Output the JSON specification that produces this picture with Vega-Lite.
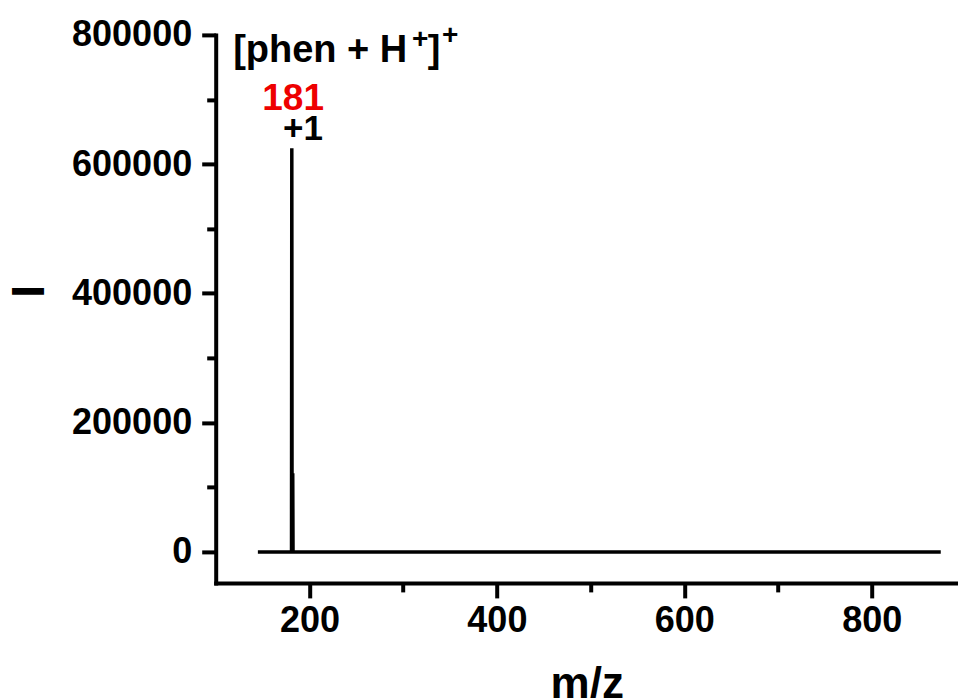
{
  "$schema": "https://vega.github.io/schema/vega-lite/v6.json",
  "autosize": {"type": "none"},
  "padding": {"left": 215.7, "top": 34.9, "right": 0, "bottom": 115.1},
  "width": 742.3,
  "height": 548,
  "background": "white",
  "config": {
    "view": {"stroke": null},
    "font": "Liberation Sans",
    "axis": {
      "grid": false,
      "domainColor": "black",
      "domainWidth": 4,
      "domainCap": "square",
      "tickColor": "black",
      "tickWidth": 4,
      "labelFont": "Liberation Sans",
      "labelFontWeight": "bold",
      "labelFontSize": 36,
      "labelColor": "black",
      "titleFont": "Liberation Sans",
      "titleFontWeight": "bold",
      "titleColor": "black"
    }
  },
  "datasets": {
    "spectrum": [
      {"mz": 145, "intensity": 0},
      {"mz": 180.9, "intensity": 0},
      {"mz": 181.2, "intensity": 624500},
      {"mz": 181.5, "intensity": 0},
      {"mz": 181.8, "intensity": 0},
      {"mz": 182.2, "intensity": 121800},
      {"mz": 182.5, "intensity": 0},
      {"mz": 873.6, "intensity": 0}
    ],
    "mainText": [
      {"mz": 118.6, "intensity": 758000, "label": "[phen + H"},
      {"mz": 326.3, "intensity": 758000, "label": "]"}
    ],
    "chargeText": [
      {"mz": 171.9, "intensity": 637300, "label": "+1"}
    ],
    "supText": [
      {"mz": 318.1, "intensity": 780000, "label": "+"},
      {"mz": 350.1, "intensity": 786000, "label": "+"}
    ],
    "redText": [
      {"mz": 182.6, "intensity": 683700, "label": "181"}
    ]
  },
  "encoding": {
    "x": {
      "field": "mz",
      "type": "quantitative",
      "scale": {"domain": [100, 892], "nice": false, "zero": false},
      "axis": {
        "title": "m/z",
        "values": [200, 300, 400, 500, 600, 700, 800],
        "labelExpr": "datum.value % 200 === 0 ? datum.label : ''",
        "tickSize": {"condition": {"test": "datum.value % 200 === 0", "value": 15}, "value": 9},
        "labelPadding": 6,
        "titleFontSize": 44,
        "titleBaseline": "alphabetic",
        "titleY": 115,
        "titleX": 371
      }
    },
    "y": {
      "field": "intensity",
      "type": "quantitative",
      "scale": {"domain": [-48000, 800000], "nice": false, "zero": false},
      "axis": {
        "title": "I",
        "format": "d",
        "values": [0, 100000, 200000, 300000, 400000, 500000, 600000, 700000, 800000],
        "labelExpr": "datum.value % 200000 === 0 ? datum.label : ''",
        "tickSize": {"condition": {"test": "datum.value % 200000 === 0", "value": 14}, "value": 9},
        "labelPadding": 10,
        "titleFontSize": 46,
        "titleAngle": -90,
        "titleAlign": "center",
        "titleBaseline": "middle",
        "titleX": -186,
        "titleY": 256
      }
    }
  },
  "layer": [
    {
      "data": {"name": "spectrum"},
      "mark": {"type": "line", "color": "black", "strokeWidth": 3.5, "clip": false}
    },
    {
      "data": {"name": "mainText"},
      "mark": {"type": "text", "align": "left", "baseline": "alphabetic", "fontSize": 38, "fontWeight": "bold", "color": "black"},
      "encoding": {"text": {"field": "label"}}
    },
    {
      "data": {"name": "chargeText"},
      "mark": {"type": "text", "align": "left", "baseline": "alphabetic", "fontSize": 35, "fontWeight": "bold", "color": "black"},
      "encoding": {"text": {"field": "label"}}
    },
    {
      "data": {"name": "supText"},
      "mark": {"type": "text", "align": "center", "baseline": "alphabetic", "fontSize": 28, "fontWeight": "bold", "color": "black"},
      "encoding": {"text": {"field": "label"}}
    },
    {
      "data": {"name": "redText"},
      "mark": {"type": "text", "align": "center", "baseline": "alphabetic", "fontSize": 37, "fontWeight": "bold", "color": "#ee0000"},
      "encoding": {"text": {"field": "label"}}
    }
  ]
}
